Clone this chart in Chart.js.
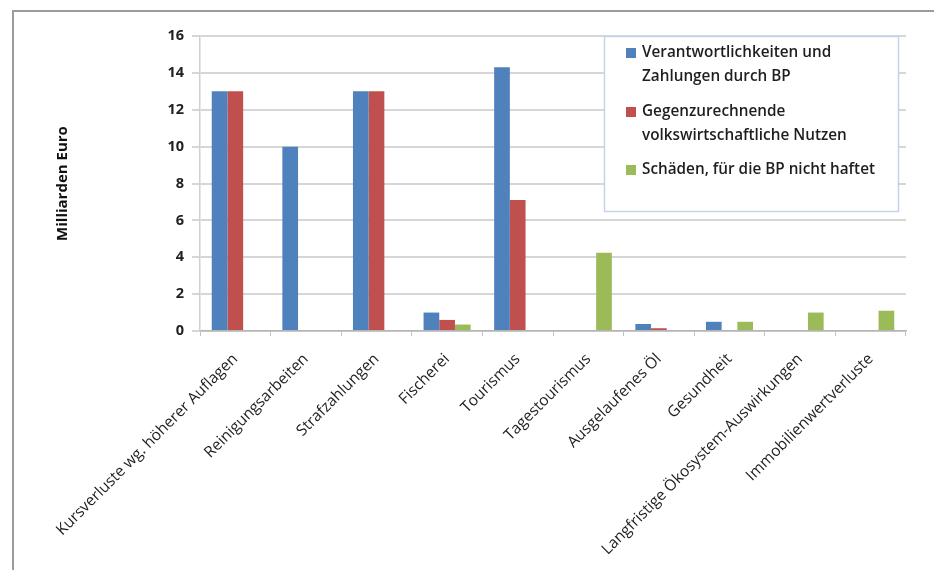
<!DOCTYPE html>
<html>
<head>
<meta charset="utf-8">
<script src="https://cdn.jsdelivr.net/npm/chart.js@4/dist/chart.umd.min.js"></script>
<style>
  html, body { margin: 0; padding: 0; background: #fff; }
  #frame { position: absolute; left: 12px; top: 10px; width: 922px; height: 560px;
           border-top: 2px solid #9c9c9c; border-left: 2px solid #9c9c9c; }
  #wrap { position: absolute; left: 0; top: 0; width: 920px; height: 558px; }
</style>
</head>
<body>
<div id="frame"><div id="wrap"><canvas id="c"></canvas></div></div>
<script>
// ---- data ----
const categories = [
  'Kursverluste wg. höherer Auflagen',
  'Reinigungsarbeiten',
  'Strafzahlungen',
  'Fischerei',
  'Tourismus',
  'Tagestourismus',
  'Ausgelaufenes Öl',
  'Gesundheit',
  'Langfristige Ökosystem-Auswirkungen',
  'Immobilienwertverluste'
];
const seriesNames = [
  ['Verantwortlichkeiten und', 'Zahlungen durch BP'],
  ['Gegenzurechnende', 'volkswirtschaftliche Nutzen'],
  ['Schäden, für die BP nicht haftet']
];
const bpPayments    = [13, 10, 13, 1.0, 14.3, null, 0.38, 0.5, null, null];
const offsetBenefit = [13, null, 13, 0.6, 7.1, null, 0.15, null, null, null];
const notLiable     = [null, null, null, 0.35, null, 4.25, null, 0.5, 1.0, 1.1];
const yTicks = [0, 2, 4, 6, 8, 10, 12, 14, 16];
const yTitle = 'Milliarden Euro';

const colors = ['#4F81BD', '#C0504D', '#9BBB59'];

const legendBox = {
  id: 'legendBox',
  afterDraw(chart) {
    const ctx = chart.ctx;
    const ca = chart.chartArea;
    const x0 = ca.left + 404, y0 = ca.top, w = 294, h = 175;
    ctx.save();
    ctx.fillStyle = '#ffffff';
    ctx.fillRect(x0, y0, w, h);
    ctx.strokeStyle = '#c5d3ea';
    ctx.lineWidth = 1.5;
    ctx.strokeRect(x0 + 0.5, y0 + 0.5, w, h);
    ctx.font = '600 15.3px "Open Sans", sans-serif';
    ctx.textBaseline = 'middle';
    const lineH = 24;
    const starts = [17, 76, 134];
    chart.data.datasets.forEach((ds, i) => {
      const lines = ds.legendLines;
      const yy = y0 + starts[i];
      ctx.fillStyle = ds.backgroundColor;
      ctx.fillRect(x0 + 22, yy - 5, 10, 10);
      ctx.fillStyle = '#1e1e1e';
      lines.forEach((ln, j) => ctx.fillText(ln, x0 + 38, yy + j * lineH));
    });
    ctx.restore();
  }
};

new Chart(document.getElementById('c'), {
  type: 'bar',
  data: {
    labels: categories,
    datasets: [
      { label: seriesNames[0].join(' '), legendLines: seriesNames[0], data: bpPayments, backgroundColor: colors[0] },
      { label: seriesNames[1].join(' '), legendLines: seriesNames[1], data: offsetBenefit, backgroundColor: colors[1] },
      { label: seriesNames[2].join(' '), legendLines: seriesNames[2], data: notLiable, backgroundColor: colors[2] }
    ]
  },
  options: {
    responsive: true,
    maintainAspectRatio: false,
    animation: false,
    layout: { padding: { left: 40, right: 28, top: 24, bottom: 0 } },
    datasets: { bar: { barPercentage: 1.0, categoryPercentage: 0.667, borderWidth: 0 } },
    plugins: { legend: { display: false }, tooltip: { enabled: false } },
    scales: {
      x: {
        offset: true,
        grid: { display: true, drawOnChartArea: false, drawTicks: true, tickLength: 5, color: '#c0c0c0', offset: true },
        border: { display: true, color: '#b5b5b5', width: 1.5 },
        ticks: { minRotation: 45, maxRotation: 45, autoSkip: false, padding: 14,
                 color: '#1e1e1e', font: { family: '"Open Sans", sans-serif', size: 15.5 } },
        afterFit(scale) { scale.height = 239; }
      },
      y: {
        min: 0, max: 16,
        afterBuildTicks(scale) { scale.ticks = yTicks.map(v => ({ value: v })); },
        grid: { color: '#d6d6d6', lineWidth: 2, tickLength: 8 },
        border: { display: true, color: '#d0d0d0', width: 1.5 },
        ticks: { padding: 8, color: '#222', font: { family: '"Open Sans", sans-serif', size: 14.5, weight: 'bold' } },
        title: { display: true, text: yTitle, padding: 0, color: '#111',
                 font: { family: '"Open Sans", sans-serif', size: 15, weight: 'bold' } },
        afterFit(scale) { scale.width = 146; }
      }
    }
  },
  plugins: [legendBox]
});
</script>
</body>
</html>
